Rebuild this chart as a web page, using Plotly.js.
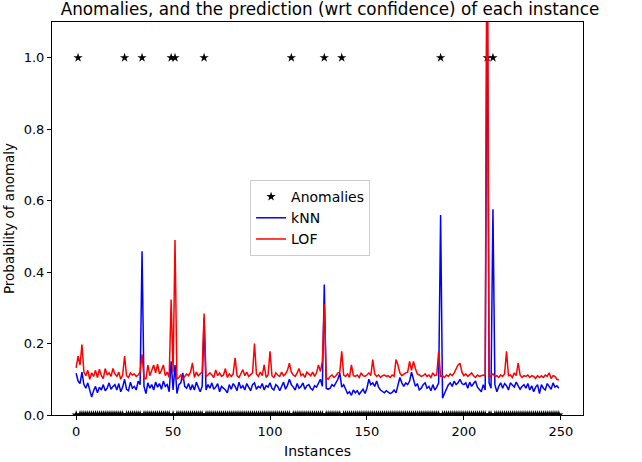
<!DOCTYPE html>
<html>
<head>
<meta charset="utf-8">
<script src="https://cdn.plot.ly/plotly-3.0.1.min.js"></script>
<style>html,body{margin:0;padding:0;background:#fff;}#chart{width:642px;height:462px;}</style>
</head>
<body>
<div id="chart"></div>
<script>
// Indices of true anomalies (label = 1); all other instances have label 0
var anomalyIdx = [1, 25, 34, 49, 51, 66, 111, 128, 137, 188, 212, 215];
var nInstances = 250;

// kNN anomaly probability per instance
var knn = [
0.117,0.095,0.088,0.12,0.085,0.075,0.09,0.072,0.05,0.068,
0.08,0.062,0.078,0.07,0.085,0.068,0.075,0.09,0.072,0.08,
0.085,0.07,0.088,0.065,0.078,0.1,0.072,0.068,0.092,0.075,
0.08,0.07,0.095,0.085,0.458,0.08,0.06,0.09,0.075,0.085,
0.07,0.092,0.078,0.088,0.072,0.095,0.08,0.085,0.065,0.15,
0.07,0.14,0.06,0.085,0.09,0.118,0.08,0.075,0.088,0.07,
0.085,0.07,0.092,0.078,0.065,0.08,0.27,0.07,0.085,0.075,
0.09,0.072,0.078,0.088,0.065,0.08,0.075,0.07,0.062,0.085,
0.072,0.088,0.08,0.068,0.092,0.075,0.082,0.07,0.088,0.078,
0.068,0.085,0.09,0.072,0.08,0.076,0.088,0.07,0.082,0.078,
0.09,0.075,0.07,0.085,0.08,0.068,0.078,0.092,0.072,0.083,
0.1,0.085,0.078,0.07,0.088,0.075,0.08,0.09,0.072,0.082,
0.085,0.075,0.07,0.082,0.078,0.088,0.1,0.08,0.365,0.075,
0.072,0.075,0.085,0.08,0.09,0.1,0.117,0.078,0.085,0.07,
0.06,0.065,0.055,0.07,0.062,0.068,0.058,0.065,0.072,0.06,
0.075,0.1,0.085,0.09,0.08,0.095,0.078,0.07,0.065,0.062,
0.068,0.065,0.06,0.063,0.07,0.062,0.085,0.105,0.09,0.08,
0.09,0.085,0.095,0.12,0.1,0.08,0.088,0.07,0.075,0.085,
0.09,0.075,0.08,0.068,0.085,0.07,0.078,0.09,0.56,0.047,
0.06,0.075,0.085,0.09,0.08,0.095,0.085,0.09,0.1,0.088,
0.085,0.09,0.075,0.092,0.08,0.088,0.095,0.078,0.07,0.065,
0.085,0.07,1.3,0.09,0.075,0.576,0.085,0.065,0.08,0.09,
0.075,0.088,0.082,0.07,0.09,0.085,0.078,0.092,0.08,0.072,
0.08,0.085,0.075,0.088,0.07,0.082,0.065,0.078,0.085,0.06,
0.085,0.075,0.07,0.088,0.08,0.072,0.09,0.078,0.082,0.075
];

// LOF anomaly probability per instance
var lof = [
0.132,0.165,0.14,0.197,0.12,0.11,0.125,0.1,0.118,0.108,
0.125,0.105,0.128,0.11,0.102,0.13,0.112,0.118,0.108,0.13,
0.115,0.108,0.12,0.1,0.112,0.165,0.11,0.105,0.118,0.112,
0.115,0.108,0.112,0.12,0.17,0.105,0.1,0.14,0.11,0.125,
0.14,0.118,0.142,0.115,0.125,0.14,0.11,0.12,0.105,0.323,
0.12,0.49,0.1,0.105,0.112,0.1,0.108,0.115,0.11,0.12,
0.146,0.105,0.12,0.11,0.115,0.12,0.284,0.108,0.112,0.118,
0.112,0.105,0.126,0.11,0.118,0.108,0.112,0.13,0.105,0.115,
0.108,0.115,0.16,0.11,0.105,0.118,0.127,0.11,0.12,0.108,
0.112,0.118,0.2,0.115,0.108,0.12,0.11,0.14,0.105,0.112,
0.178,0.11,0.105,0.118,0.112,0.108,0.12,0.11,0.115,0.125,
0.145,0.12,0.112,0.108,0.118,0.13,0.11,0.115,0.105,0.12,
0.115,0.11,0.12,0.108,0.118,0.14,0.122,0.15,0.31,0.105,
0.1,0.108,0.112,0.105,0.11,0.118,0.12,0.178,0.112,0.108,
0.115,0.105,0.14,0.11,0.108,0.112,0.105,0.118,0.11,0.108,
0.112,0.118,0.11,0.155,0.115,0.108,0.112,0.105,0.11,0.112,
0.108,0.11,0.105,0.112,0.108,0.155,0.14,0.118,0.11,0.115,
0.118,0.12,0.15,0.125,0.15,0.13,0.115,0.112,0.108,0.11,
0.115,0.108,0.112,0.105,0.118,0.11,0.112,0.178,0.108,0.11,
0.105,0.112,0.108,0.115,0.11,0.118,0.13,0.14,0.145,0.12,
0.11,0.115,0.108,0.112,0.118,0.11,0.105,0.112,0.108,0.11,
0.112,0.11,1.6,0.105,0.11,0.115,0.108,0.11,0.105,0.112,
0.108,0.115,0.178,0.11,0.112,0.105,0.118,0.11,0.145,0.112,
0.105,0.11,0.108,0.112,0.105,0.11,0.108,0.102,0.11,0.105,
0.11,0.105,0.112,0.108,0.118,0.102,0.11,0.108,0.1,0.098
];

var xTickVals = [0, 50, 100, 150, 200, 250];
var yTickVals = [0.0, 0.2, 0.4, 0.6, 0.8, 1.0];

var instances = [];
var labels = [];
for (var i = 0; i < nInstances; i++) {
  instances.push(i);
  labels.push(anomalyIdx.indexOf(i) >= 0 ? 1 : 0);
}

var font = "DejaVu Sans, sans-serif";

var traces = [
  {x: instances, y: labels, name: "Anomalies", type: "scatter", mode: "markers",
   marker: {symbol: "star", size: 7, color: "#000000"}},
  {x: instances, y: knn, name: "kNN", type: "scatter", mode: "lines",
   line: {color: "#0000ff", width: 1.5}},
  {x: instances, y: lof, name: "LOF", type: "scatter", mode: "lines",
   line: {color: "#ff0000", width: 1.5}}
];

var axisCommon = {
  showline: true, mirror: true, linecolor: "#000000", linewidth: 1,
  ticks: "outside", ticklen: 4, tickcolor: "#000000", tickwidth: 1,
  showgrid: false, zeroline: false,
  tickfont: {family: font, size: 13, color: "#000000"}
};

var layout = {
  width: 642, height: 462,
  paper_bgcolor: "#ffffff", plot_bgcolor: "#ffffff",
  margin: {l: 52, r: 59, t: 22, b: 47},
  title: {text: "Anomalies, and the prediction (wrt confidence) of each instance",
          font: {family: font, size: 16.8, color: "#000000"},
          x: 0.514, xanchor: "center", xref: "container", y: 0.981, yanchor: "middle", yref: "container"},
  xaxis: Object.assign({}, axisCommon, {
    range: [-12.45, 261.45], tickvals: xTickVals, ticktext: xTickVals.map(String),
    title: {text: "Instances", font: {family: font, size: 14, color: "#000000"}, standoff: 8}
  }),
  yaxis: Object.assign({}, axisCommon, {
    range: [0, 1.1], tickvals: yTickVals, ticktext: yTickVals.map(function(v){return v.toFixed(1);}),
    title: {text: "Probability of anomaly", font: {family: font, size: 13.5, color: "#000000"}, standoff: 5}
  }),
  showlegend: true,
  legend: {x: 0.373, y: 0.598, xanchor: "left", yanchor: "top",
           bgcolor: "rgba(255,255,255,0.8)", bordercolor: "#cccccc", borderwidth: 1,
           font: {family: font, size: 14, color: "#000000"}, tracegroupgap: 0}
};

Plotly.newPlot("chart", traces, layout, {displayModeBar: false, staticPlot: true});
</script>
</body>
</html>
